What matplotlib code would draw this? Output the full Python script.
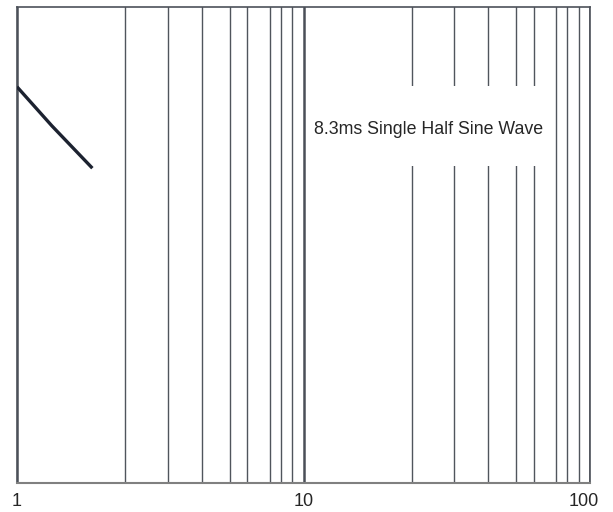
import numpy as np
import matplotlib
matplotlib.use("Agg")
import matplotlib.pyplot as plt
from matplotlib.patches import Rectangle
from matplotlib.transforms import ScaledTranslation

# ---- data ----
cycles = [1.0, 1.25, 1.62]
surge = [83.3, 75.1, 66.2]
major_ticks = [1, 10, 100]
major_labels = ["1", "10", "100"]
grid_values = [2, 3, 4, 5, 6, 7, 8, 9, 20, 30, 40, 50, 60, 70, 80, 90]
annotation = "8.3ms Single Half Sine Wave"

# ---- custom decade scale (grid spacing as printed on the original sheet) ----
_dec_frac = [0.0, 0.378, 0.526, 0.645, 0.743, 0.803, 0.882, 0.921, 0.961]
_anchor_vals = [m * 10 ** d for d in (0, 1) for m in range(1, 10)] + [100]
_anchor_log = np.log10(_anchor_vals)
_anchor_pos = np.array([d + f for d in (0, 1) for f in _dec_frac] + [2.0])


def _fwd(v):
    v = np.clip(np.asarray(v, dtype=float), 1e-12, None)
    return np.interp(np.log10(v), _anchor_log, _anchor_pos)


def _inv(p):
    return 10 ** np.interp(np.asarray(p, dtype=float), _anchor_pos, _anchor_log)


plt.rcParams['font.family'] = ['Liberation Sans', 'DejaVu Sans']

fig = plt.figure(figsize=(6.13, 5.12), dpi=100)
ax = fig.add_axes([17 / 613, 1 - 483.3 / 512, (590 - 17) / 613, (483.3 - 7.3) / 512])

ax.set_xscale('function', functions=(_fwd, _inv))
ax.set_xlim(1, 100)
ax.set_ylim(0, 100)

ax.set_xticks(major_ticks)
ax.set_xticklabels(major_labels)
ax.set_xticks(grid_values, minor=True)
ax.tick_params(axis='x', which='both', length=0, pad=7, labelsize=13, labelcolor='#262626')
ax.tick_params(axis='x', which='minor', labelbottom=False)
ax.set_yticks([])

ax.set_axisbelow(True)
ax.grid(True, axis='x', which='minor', color='#50555c', linewidth=1.0)
ax.grid(True, axis='x', which='major', color='#4a4f58', linewidth=1.8)

for s in ax.spines.values():
    s.set_color('#4d525a')
    s.set_linewidth(1.2)
ax.spines['bottom'].set_color('#808080')
ax.spines['bottom'].set_linewidth(1.5)

# white box behind the annotation
ax.add_patch(Rectangle((0.505, 0.667), 0.428, 0.168, transform=ax.transAxes,
                       facecolor='white', edgecolor='none', zorder=1.5))
ax.text(0.7175, 0.743, annotation, transform=ax.transAxes, ha='center', va='center',
        fontsize=12.8, color='#262626', zorder=4)

ax.plot(cycles, surge, color='#1c2230', linewidth=2.4, solid_capstyle='butt', zorder=3)

fig.canvas.draw()
lbl = ax.get_xticklabels()[-1]
lbl.set_transform(lbl.get_transform() + ScaledTranslation(-6 / 100, 0, fig.dpi_scale_trans))

fig.savefig("out.png", dpi=100)
